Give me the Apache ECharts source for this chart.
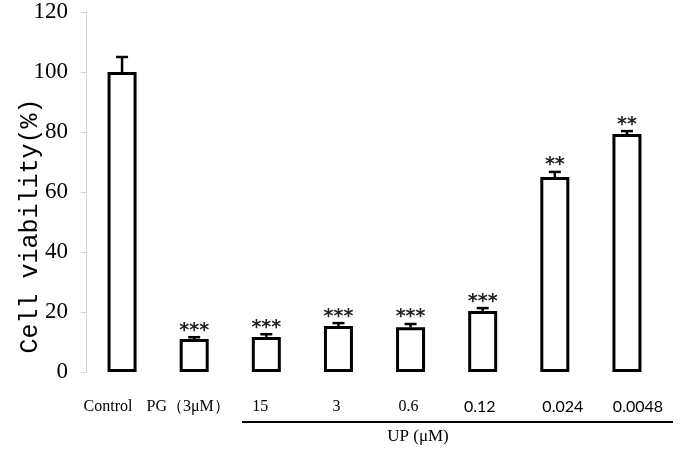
<!DOCTYPE html>
<html>
<head>
<meta charset="utf-8">
<script src="https://cdn.jsdelivr.net/npm/echarts@6/dist/echarts.min.js"></script>
<style>html,body{margin:0;padding:0;background:#fff;}#c{width:680px;height:457px;}</style>
</head>
<body>
<div id="c"></div>
<script>
var categories = ['Control', 'PG\uFF083\u03BCM\uFF09', '15', '3', '0.6', '0.12', '0.024', '0.0048'];
var viability = [100, 11, 11.7, 15.3, 14.9, 20.3, 65, 79.3];
var errors = [5, 0.6, 0.9, 1.0, 1.1, 1.0, 1.7, 1.0];
var significance = ['', '***', '***', '***', '***', '***', '**', '**'];
var yTicks = [0, 20, 40, 60, 80, 100, 120];

// label styling (horizontal nudges and font per category label, as in the original figure)
var labelStyleKeys = ['ctl', 'pg', 'n15', 'serif', 'serif', 'sans', 'sansR', 'sansR2'];
var serifFont = {fontFamily: 'Liberation Serif', fontSize: 16, color: '#000'};
var sansFont = {fontFamily: 'Lato', fontSize: 16, color: '#000'};

var chart = echarts.init(document.getElementById('c'), null, {renderer: 'canvas'});
var errData = viability.map(function (v, i) { return [i, v, v + errors[i]]; });

chart.setOption({
  animation: false,
  backgroundColor: '#fff',
  grid: {left: 86, right: 17, top: 12, bottom: 85},
  xAxis: {
    type: 'category',
    data: categories,
    axisLine: {show: false},
    axisTick: {show: false},
    axisLabel: {
      interval: 0, margin: 27, fontFamily: 'Liberation Serif', fontSize: 16, color: '#000',
      formatter: function (value, idx) { return '{' + labelStyleKeys[idx] + '|' + value + '}'; },
      rich: {
        ctl: Object.assign({padding: [0, 28, 0, 0]}, serifFont),
        pg: Object.assign({padding: [0, 12, 0, 0]}, serifFont),
        n15: Object.assign({padding: [0, 12, 0, 0]}, serifFont),
        serif: Object.assign({padding: [0, 4, 0, 0]}, serifFont),
        sans: Object.assign({padding: [0, 6, 0, 0]}, sansFont),
        sansR: Object.assign({padding: [0, 0, 0, 16]}, sansFont),
        sansR2: Object.assign({padding: [0, 0, 0, 22]}, sansFont)
      }
    }
  },
  yAxis: {
    type: 'value',
    min: yTicks[0], max: yTicks[yTicks.length - 1], interval: 20,
    axisLine: {show: true, lineStyle: {color: '#d4d4d4', width: 1}},
    axisTick: {show: true, inside: false, length: 5, lineStyle: {color: '#d4d4d4'}},
    splitLine: {show: false},
    axisLabel: {margin: 18, fontFamily: 'Liberation Serif', fontSize: 23, color: '#000'}
  },
  series: [
    {
      type: 'bar',
      data: viability,
      barWidth: 29,
      itemStyle: {color: '#fff', borderColor: '#000', borderWidth: 3},
      z: 2
    },
    {
      type: 'custom',
      data: errData,
      z: 3,
      renderItem: function (params, api) {
        var x = api.coord([api.value(0), api.value(1)]);
        var top = api.coord([api.value(0), api.value(2)]);
        var idx = params.dataIndex;
        var children = [
          {type: 'line', shape: {x1: x[0], y1: x[1], x2: top[0], y2: top[1]}, style: {stroke: '#000', lineWidth: 2.5}},
          {type: 'line', shape: {x1: top[0] - 6, y1: top[1], x2: top[0] + 6, y2: top[1]}, style: {stroke: '#000', lineWidth: 2.5}}
        ];
        if (significance[idx]) {
          children.push({type: 'text', style: {
            text: significance[idx], x: top[0], y: top[1] + 3,
            textAlign: 'center', textVerticalAlign: 'bottom',
            font: 'bold 19px "DejaVu Sans"', fill: '#222'
          }});
        }
        return {type: 'group', children: children};
      }
    }
  ],
  graphic: [
    {type: 'text', x: 30, y: 226, rotation: Math.PI / 2,
     style: {text: 'Cell viability(%)', font: '25px "Liberation Mono"', fill: '#000', textAlign: 'center', textVerticalAlign: 'middle'}},
    {type: 'line', shape: {x1: 242, y1: 422, x2: 673, y2: 422}, style: {stroke: '#000', lineWidth: 2}},
    {type: 'text', x: 418, y: 437,
     style: {text: 'UP (\u03BCM)', font: '17px "Liberation Serif"', fill: '#000', textAlign: 'center', textVerticalAlign: 'middle'}}
  ]
});
</script>
</body>
</html>
